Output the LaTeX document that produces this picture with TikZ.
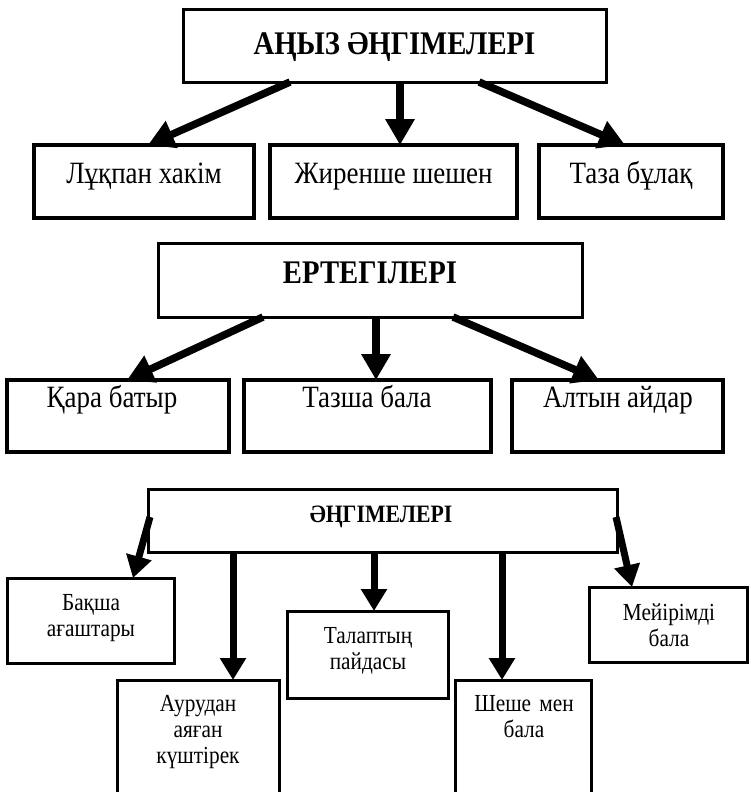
\documentclass[tikz,border=0pt]{standalone}
\usepackage{fontspec}
\setmainfont{Liberation Serif}[FakeStretch=0.87]
\usetikzlibrary{arrows.meta}
\tikzset{
  box/.style={draw, line width=3pt, inner sep=0pt, outer sep=0pt},
  rowbox/.style={box, line width=3.5pt},
  arr/.style={line width=7.5pt, -{Triangle[width=28pt,length=26pt]}},
  sarr/.style={line width=7pt, -{Triangle[width=25pt,length=22pt]}},
  title/.style={font=\fontsize{33}{33}\selectfont\bfseries, inner sep=0pt, anchor=base},
  small title/.style={font=\fontsize{25}{25}\selectfont\bfseries, inner sep=0pt, anchor=base},
  label/.style={font=\fontsize{31}{31}\selectfont, inner sep=0pt, anchor=base},
  multi/.style={font=\fontsize{24.5}{26}\selectfont, inner sep=0pt, anchor=base, align=center, text width=150pt}
}
\begin{document}
\begin{tikzpicture}[x=1pt,y=-1pt]
\useasboundingbox (0,0) rectangle (750,792);
% section 1
\node[box, minimum width=423pt, minimum height=72pt] (b1) at (394.5,46) {};
\node[title] (t1) at (394.5,55) {АҢЫЗ ӘҢГІМЕЛЕРІ};
\node[rowbox, minimum width=220pt, minimum height=73pt] (c1a) at (144,181.5) {};
\node[rowbox, minimum width=247pt, minimum height=73pt] (c1b) at (393.5,181.5) {};
\node[rowbox, minimum width=184pt, minimum height=73pt] (c1c) at (631,181.5) {};
\node[label] (l1a) at (144,183) {Лұқпан хакім};
\node[label] (l1b) at (393.5,183) {Жиренше шешен};
\node[label] (l1c) at (631,183) {Таза бұлақ};
\draw[arr] ([xshift=107pt]b1.south west) -- ([xshift=114pt]c1a.north west);
\draw[arr] ([xshift=217pt]b1.south west) -- ([xshift=130pt]c1b.north west);
\draw[arr] ([xshift=296pt]b1.south west) -- ([xshift=86pt]c1c.north west);
% section 2
\node[box, minimum width=424pt, minimum height=74pt] (b2) at (370,280) {};
\node[title] (t2) at (370,283) {ЕРТЕГІЛЕРІ};
\node[rowbox, minimum width=222pt, minimum height=72pt] (c2a) at (118,416) {};
\node[rowbox, minimum width=247pt, minimum height=72pt] (c2b) at (367.5,416) {};
\node[rowbox, minimum width=211pt, minimum height=72pt] (c2c) at (617.5,416) {};
\node[label] (l2a) at (112,407) {Қара батыр};
\node[label] (l2b) at (367,407) {Тазша бала};
\node[label] (l2c) at (618,407) {Алтын айдар};
\draw[arr] ([xshift=105pt]b2.south west) -- ([xshift=120pt]c2a.north west);
\draw[arr] ([xshift=218pt]b2.south west) -- ([xshift=132pt]c2b.north west);
\draw[arr] ([xshift=295pt]b2.south west) -- ([xshift=87pt]c2c.north west);
% section 3
\node[box, minimum width=469pt, minimum height=63pt] (b3) at (382.5,520.5) {};
\node[small title] (t3) at (381,522) {ӘҢГІМЕЛЕРІ};
\node[box, minimum width=167pt, minimum height=85pt] (d1) at (90.5,620.5) {};
\node[box, minimum width=162pt, minimum height=130pt] (d2) at (198,745) {};
\node[box, minimum width=161pt, minimum height=87pt] (d3) at (367.5,654.5) {};
\node[box, minimum width=136pt, minimum height=130pt] (d4) at (523,745) {};
\node[box, minimum width=158pt, minimum height=75pt] (d5) at (668,624.5) {};
\node[multi] (m1) at (91,610) {Бақша\\ағаштары};
\node[multi] (m2) at (198,711) {Аурудан\\аяған\\күштірек};
\node[multi] (m3) at (368,643) {Талаптың\\пайдасы};
\node[multi] (m4) at (524,711) {Шеше мен\\бала};
\node[multi] (m5) at (669,620) {Мейірімді\\бала};
\draw[sarr] ([xshift=2pt,yshift=3.5pt]b3.west) -- ([xshift=126pt]d1.north west);
\draw[sarr] ([xshift=85pt]b3.south west) -- ([xshift=116pt]d2.north west);
\draw[sarr] ([xshift=226pt]b3.south west) -- ([xshift=87pt]d3.north west);
\draw[sarr] ([xshift=354pt]b3.south west) -- ([xshift=47pt]d4.north west);
\draw[sarr] ([xshift=-1pt,yshift=3.5pt]b3.east) -- ([xshift=43pt]d5.north west);
\end{tikzpicture}
\end{document}
